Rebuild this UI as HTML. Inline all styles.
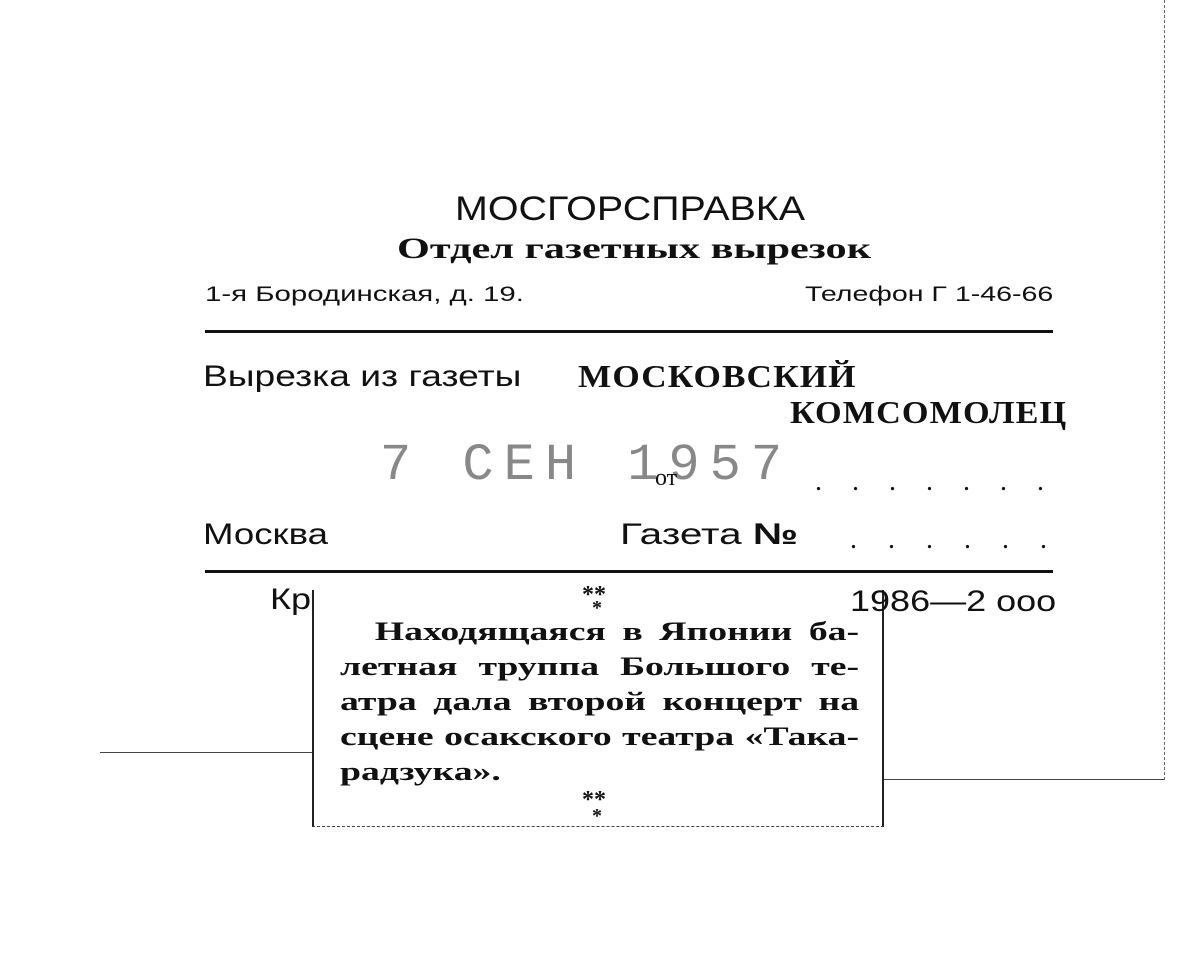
<!DOCTYPE html>
<html><head><meta charset="utf-8"><style>
body{margin:0;width:1200px;height:974px;background:#fff;position:relative;overflow:hidden;font-family:"Liberation Serif","DejaVu Serif",serif;color:#111}
.t{position:absolute;white-space:nowrap;line-height:1;transform-origin:left top}
.l{position:absolute;background:#111}
.cl div{text-align:justify;text-align-last:justify}
.cl div.last{text-align-last:left}
</style></head><body>
<div class="t" style="left:455px;top:192px;font-size:34px;font-family:'Liberation Sans',sans-serif;transform:scaleX(1.16)">МОСГОРСПРАВКА</div>
<div class="t" style="left:397px;top:234px;font-size:30px;font-weight:bold;transform:scaleX(1.41)">Отдел газетных вырезок</div>
<div class="t" style="left:205px;top:284px;font-size:21px;font-family:'Liberation Sans',sans-serif;transform:scaleX(1.4)">1-я Бородинская, д. 19.</div>
<div class="t" style="left:805px;top:284px;font-size:21px;font-family:'Liberation Sans',sans-serif;transform:scaleX(1.36)">Телефон Г 1-46-66</div>
<div class="l" style="left:205px;top:330px;width:848px;height:3px"></div>
<div class="t" style="left:203px;top:362px;font-size:30px;font-family:'Liberation Sans',sans-serif;transform:scaleX(1.24)">Вырезка из газеты</div>
<div class="t" style="left:578px;top:360px;font-size:32px;font-weight:bold;letter-spacing:1px;transform:scaleX(1.1)">МОСКОВСКИЙ</div>
<div class="t" style="left:790px;top:396px;font-size:32px;font-weight:bold;letter-spacing:1px;transform:scaleX(1.07)">КОМСОМОЛЕЦ</div>
<div class="t" style="left:380px;top:440px;font-size:52px;color:#888;letter-spacing:10px;font-family:'Liberation Mono',monospace">7 СЕН 1957</div>
<div class="t" style="left:655px;top:466px;font-size:24px">от</div>
<div class="t" style="left:815px;top:468px;font-size:28px;letter-spacing:30px">.......</div>
<div class="t" style="left:850px;top:526px;font-size:28px;letter-spacing:31px">......</div>
<div class="t" style="left:203px;top:520px;font-size:30px;font-family:'Liberation Sans',sans-serif;transform:scaleX(1.22)">Москва</div>
<div class="t" style="left:620px;top:520px;font-size:30px;font-family:'Liberation Sans',sans-serif;transform:scaleX(1.35)">Газета <b>№</b></div>
<div class="l" style="left:205px;top:570px;width:848px;height:3px"></div>
<div class="t" style="left:270px;top:585px;font-size:30px;font-family:'Liberation Sans',sans-serif;transform:scaleX(1.2)">Кр</div>
<div class="l" style="left:100px;top:752px;width:212px;height:1px;background:#444"></div>
<div class="l" style="left:882px;top:779px;width:283px;height:1px;background:#444"></div>
<div style="position:absolute;left:1164px;top:0;width:0;height:780px;border-left:1px dashed #666"></div>
<div style="position:absolute;left:312px;top:590px;width:568px;height:236px;background:#fff;border-left:2px solid #222;border-right:2px solid #222;border-bottom:1px dashed #444"></div>
<div class="t" style="left:850px;top:587px;font-size:30px;font-family:'Liberation Sans',sans-serif;transform:scaleX(1.2)">1986—2 ооо</div>
<div class="t" style="left:582px;top:583px;font-size:24px;font-weight:bold">**</div>
<div class="t" style="left:592px;top:598px;font-size:20px;font-weight:bold">*</div>
<div class="cl" style="position:absolute;left:340px;top:614px;font-size:26px;font-weight:bold;line-height:35px;width:358px;transform:scaleX(1.45);transform-origin:left top">
<div style="padding-left:24px">Находящаяся в Японии ба-</div>
<div>летная труппа Большого те-</div>
<div>атра дала второй концерт на</div>
<div>сцене осакского театра «Така-</div>
<div class="last">радзука».</div>
</div>
<div class="t" style="left:582px;top:788px;font-size:24px;font-weight:bold">**</div>
<div class="t" style="left:592px;top:806px;font-size:20px;font-weight:bold">*</div>
</body></html>
